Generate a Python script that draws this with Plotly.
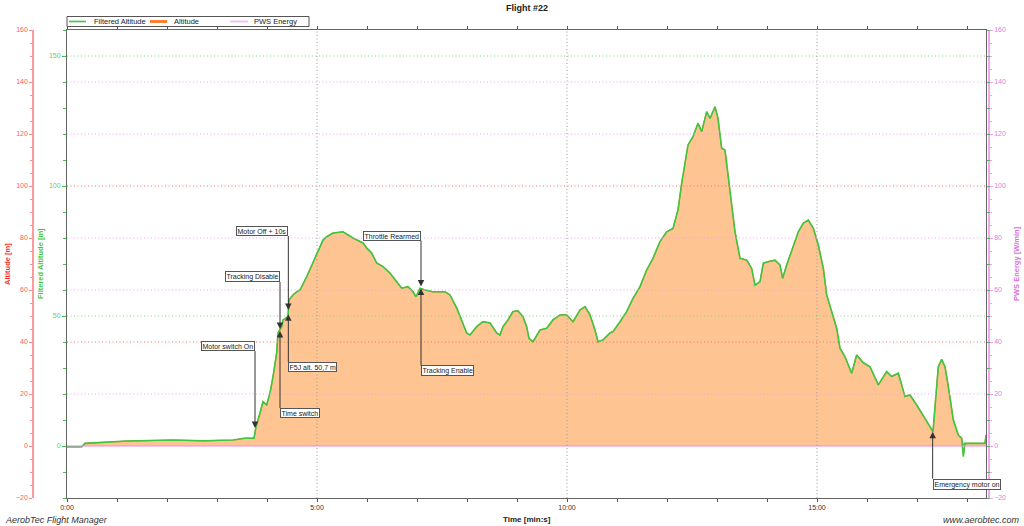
import plotly.graph_objects as go

# ---------------- data ----------------
time_s = [0, 17.6, 21.6, 71.6, 127.2, 163.2, 199.2, 213.6, 224.4, 226.8,
          231.6, 235.2, 239.6, 243.6, 247.2, 251.6, 253.2, 257.6, 259.2, 265.2,
          266.4, 271.2, 275.6, 279.6, 287.6, 295.2, 301.2, 307.2, 311.6, 319.2,
          331.2, 343.2, 355.2, 359.6, 365.6, 371.6, 379.2, 387.6, 395.6, 401.6,
          409.2, 415.2, 418.8, 423.6, 429.6, 439.2, 453.6, 459.6, 467.6, 473.6,
          479.6, 483.6, 491.6, 499.2, 507.6, 515.6, 519.6, 523.2, 529.2, 535.2,
          541.2, 547.2, 551.6, 554.4, 559.2, 567.6, 575.6, 583.2, 591.6, 599.6,
          607.2, 615.6, 621.6, 627.6, 633.6, 637.2, 643.2, 651.6, 655.2, 663.6,
          671.6, 679.2, 687.6, 695.6, 703.2, 711.6, 719.6, 727.2, 733.2, 737.6,
          741.6, 745.2, 751.2, 757.2, 761.6, 767.6, 771.6, 777.6, 781.2, 785.6,
          789.6, 793.2, 797.6, 801.6, 807.6, 815.6, 821.6, 825.6, 831.6, 835.6,
          841.2, 849.6, 855.6, 858.8, 863.6, 869.6, 877.6, 883.6, 889.6, 895.6,
          901.6, 907.6, 911.6, 917.6, 923.6, 927.6, 933.6, 941.6, 947.6, 955.6,
          963.6, 973.6, 983.6, 989.6, 997.6, 1005.6, 1011.6, 1019.6, 1025.6, 1031.6,
          1039.2, 1041.6, 1045.6, 1049.6, 1053.6, 1057.6, 1063.6, 1069.6, 1073.6, 1075.6,
          1077.6, 1101.6, 1102.8]

filtered_altitude = [-0.3, -0.3, 1.0, 1.9, 2.3, 2.0, 2.3, 3.0, 3.0, 7.4,
                     12.7, 17.0, 15.8, 20.4, 26.7, 35.8, 43.5, 45.9, 48.5, 49.7,
                     56.2, 58.1, 59.3, 60.0, 65.1, 70.4, 74.7, 79.2, 80.5, 81.9,
                     82.4, 80.0, 78.1, 76.2, 74.2, 70.4, 69.0, 66.5, 63.2, 60.7,
                     61.3, 59.3, 57.4, 60.7, 60.0, 59.3, 59.3, 58.1, 53.1, 48.5,
                     43.5, 42.7, 45.9, 47.8, 47.3, 43.5, 42.7, 45.9, 48.5, 51.7,
                     52.0, 49.7, 45.9, 41.4, 40.1, 44.6, 45.3, 48.5, 50.4, 50.4,
                     47.8, 52.3, 53.6, 50.4, 44.6, 40.1, 40.8, 43.5, 44.0, 47.8,
                     51.7, 56.8, 61.3, 67.7, 72.2, 78.6, 82.4, 83.7, 90.8, 101.0,
                     109.3, 115.8, 119.0, 124.1, 120.9, 128.6, 126.0, 130.5, 126.0, 114.5,
                     113.8, 104.2, 94.0, 82.4, 72.2, 71.5, 68.3, 61.9, 63.2, 70.3,
                     70.9, 71.5, 69.6, 64.5, 69.6, 75.4, 82.4, 85.7, 86.9, 83.7,
                     77.3, 68.3, 58.1, 51.7, 45.3, 37.6, 34.3, 28.0, 35.0, 32.0,
                     30.5, 23.5, 28.6, 26.7, 28.0, 19.0, 19.6, 15.8, 12.6, 9.3,
                     5.5, 15.1, 30.5, 33.3, 30.5, 22.8, 10.0, 4.2, 3.0, -4.1,
                     1.0, 1.0, 4.2]

altitude = [-0.3, -0.3, 1.0, 1.9, 2.3, 2.0, 2.3, 3.0, 3.0, 7.4,
            12.7, 17.0, 15.8, 20.4, 26.7, 35.8, 43.5, 45.9, 48.5, 49.7,
            56.2, 58.1, 59.3, 60.0, 65.1, 70.4, 74.7, 79.2, 80.5, 81.9,
            82.4, 80.0, 78.1, 76.2, 74.2, 70.4, 69.0, 66.5, 63.2, 60.7,
            61.3, 59.3, 57.4, 60.7, 60.0, 59.3, 59.3, 58.1, 53.1, 48.5,
            43.5, 42.7, 45.9, 47.8, 47.3, 43.5, 42.7, 45.9, 48.5, 51.7,
            52.0, 49.7, 45.9, 41.4, 40.1, 44.6, 45.3, 48.5, 50.4, 50.4,
            47.8, 52.3, 53.6, 50.4, 44.6, 40.1, 40.8, 43.5, 44.0, 47.8,
            51.7, 56.8, 61.3, 67.7, 72.2, 78.6, 82.4, 83.7, 90.8, 101.0,
            109.3, 115.8, 119.0, 124.1, 120.9, 128.6, 126.0, 130.5, 126.0, 114.5,
            113.8, 104.2, 94.0, 82.4, 72.2, 71.5, 68.3, 61.9, 63.2, 70.3,
            70.9, 71.5, 69.6, 64.5, 69.6, 75.4, 82.4, 85.7, 86.9, 83.7,
            77.3, 68.3, 58.1, 51.7, 45.3, 37.6, 34.3, 28.0, 35.0, 32.0,
            30.5, 23.5, 28.6, 26.7, 28.0, 19.0, 19.6, 15.8, 12.6, 9.3,
            5.5, 15.1, 30.5, 33.3, 30.5, 22.8, 10.0, 4.2, 3.0, 0.5,
            1.0, 1.0, 4.2]

pws_time = [0, 1102.8]
pws_energy = [0, 0]

x_tick_vals = [0, 300, 600, 900]
x_tick_text = ["0:00", "5:00", "10:00", "15:00"]

event_labels = ["Motor switch On", "Tracking Disable", "Time switch", "Motor Off + 10s",
                "F5J alt. 50,7 m", "Throttle Rearmed", "Tracking Enable", "Emergency motor on"]
event_time = [225.6, 255.6, 255.6, 265.6, 265.6, 424.8, 424.8, 1038.8]
event_alt = [6.9, 45.0, 44.2, 52.3, 50.7, 61.3, 60.6, 5.5]

# ---------------- layout helpers ----------------
W, H = 1024, 526
def PX(x):
    return x / W
def PY(y):
    return 1 - y / H

PLOT_L, PLOT_R, PLOT_T, PLOT_B = 67, 986, 30, 498
FONT = "Liberation Sans, Arial, sans-serif"

GREEN = "#3fc63f"
ORANGE = "#ff7f33"
FILL = "#fec592"
PINK = "#ee88ee"

fig = go.Figure()

# base subplot (red axis): Altitude area
fig.add_trace(go.Scatter(
    x=time_s, y=altitude, name="Altitude", mode="lines",
    line=dict(color=ORANGE, width=1.2), fill="tozeroy", fillcolor=FILL,
    yaxis="y", showlegend=False))
# green axis overlay: Filtered Altitude
fig.add_trace(go.Scatter(
    x=time_s, y=filtered_altitude, name="Filtered Altitude", mode="lines",
    line=dict(color=GREEN, width=1.6), yaxis="y2", showlegend=False))
# magenta axis overlay: PWS Energy
fig.add_trace(go.Scatter(
    x=pws_time, y=pws_energy, name="PWS Energy", mode="lines",
    line=dict(color=PINK, width=1.2), yaxis="y3", showlegend=False))

ydom = [PY(PLOT_B), PY(PLOT_T)]
yr = [-20, 160]

fig.update_layout(
    width=W, height=H, margin=dict(l=0, r=0, t=0, b=0, autoexpand=False),
    paper_bgcolor="white", plot_bgcolor="white",
    font=dict(family=FONT, size=7, color="#333"),
    showlegend=False,
    xaxis=dict(
        domain=[PX(PLOT_L), PX(PLOT_R)], range=[0, 1102.8], anchor="y2",
        tickmode="array", tickvals=x_tick_vals, ticktext=x_tick_text,
        ticks="outside", ticklen=3, tickcolor="#555", tickfont=dict(size=7, color="#333"),
        minor=dict(tickmode="linear", tick0=0, dtick=60, ticks="outside", ticklen=3,
                   tickcolor="#555", showgrid=False),
        showline=True, linecolor="#666", linewidth=1, mirror="allticks",
        showgrid=False, zeroline=False,
    ),
    yaxis=dict(
        domain=ydom, range=yr, side="left", anchor="free",
        position=PX(33), tickmode="linear", tick0=0, dtick=20,
        ticks="outside", ticklen=3, tickcolor="#ff8a8a",
        tickfont=dict(size=7, color="#ff5c5c"),
        minor=dict(tickmode="linear", tick0=0, dtick=5, ticks="outside", ticklen=2,
                   tickcolor="#ff8a8a", showgrid=False),
        showline=True, linecolor="#ff9a9a", linewidth=1.5,
        showgrid=False, zeroline=False,
    ),
    yaxis2=dict(
        domain=ydom, range=yr, overlaying="y", anchor="x", side="left",
        tickmode="array", tickvals=[0, 50, 100, 150],
        ticks="outside", ticklen=4, tickcolor=GREEN,
        tickfont=dict(size=7, color="#66cc66"),
        minor=dict(tickmode="linear", tick0=0, dtick=10, ticks="outside", ticklen=3,
                   tickcolor=GREEN, showgrid=False),
        showline=True, linecolor="#666", linewidth=1, mirror="allticks",
        showgrid=False, zeroline=False,
    ),
    yaxis3=dict(
        domain=ydom, range=yr, overlaying="y", side="right", anchor="free",
        position=PX(989), tickmode="linear", tick0=0, dtick=20,
        ticks="outside", ticklen=3, tickcolor="#eea0ee",
        tickfont=dict(size=7, color="#dd80dd"),
        minor=dict(tickmode="linear", tick0=0, dtick=5, ticks="outside", ticklen=2,
                   tickcolor="#eea0ee", showgrid=False),
        showline=True, linecolor="#f0a8f0", linewidth=1.5,
        showgrid=False, zeroline=False,
    ),
)

# ---------------- grid lines (drawn above the area fill) ----------------
grid_levels = [(20, "#eea6ee"), (40, "#f07070"), (50, "#7fd87f"), (60, "#eea6ee"),
               (80, "#eea6ee"), (100, "#f07070"), (120, "#eea6ee"), (140, "#eea6ee"),
               (150, "#7fd87f")]
shapes = []
for v, col in grid_levels:
    shapes.append(dict(type="line", xref="paper", yref="y", x0=PX(PLOT_L), x1=PX(PLOT_R),
                       y0=v, y1=v, line=dict(color=col, width=1, dash="1px,2.5px"), layer="above"))
for v in x_tick_vals[1:]:
    shapes.append(dict(type="line", xref="x", yref="paper", x0=v, x1=v,
                       y0=PY(PLOT_B), y1=PY(PLOT_T), line=dict(color="#999", width=1, dash="1px,2.5px"),
                       layer="above"))

# ---------------- custom legend ----------------
shapes.append(dict(type="rect", xref="paper", yref="paper", x0=PX(67), x1=PX(309),
                   y0=PY(26.5), y1=PY(16.5), line=dict(color="#555", width=1), fillcolor="white"))
legend_items = [("Filtered Altitude", GREEN, 1.6, 69, 86, 92),
                ("Altitude", ORANGE, 3, 150, 167, 172),
                ("PWS Energy", "#ecc4ee", 2, 230, 248, 252)]
annotations = []
for name, col, wdt, lx0, lx1, tx in legend_items:
    shapes.append(dict(type="line", xref="paper", yref="paper", x0=PX(lx0), x1=PX(lx1),
                       y0=PY(21.5), y1=PY(21.5), line=dict(color=col, width=wdt)))
    annotations.append(dict(text=name, xref="paper", yref="paper", x=PX(tx), y=PY(21.5),
                            xanchor="left", yanchor="middle", showarrow=False,
                            font=dict(size=7.5, color="#222")))

# ---------------- event callouts ----------------
event_style = [(-77, "right", "bottom"), (-47, "right", "bottom"), (77, "left", "top"),
               (-74, "right", "bottom"), (48, "left", "top"), (-46, "right", "bottom"),
               (77, "left", "top"), (47, "left", "top")]
for lab, t, a, (ay, xa, ya) in zip(event_labels, event_time, event_alt, event_style):
    annotations.append(dict(
        text=lab, x=t, y=a, xref="x", yref="y", ax=0, ay=ay,
        xanchor=xa, yanchor=ya, showarrow=True, arrowhead=2, arrowsize=1.3,
        arrowwidth=1, arrowcolor="#333", standoff=0,
        bgcolor="white", bordercolor="#555", borderwidth=1, borderpad=0.5,
        font=dict(size=7, color="#222")))

# ---------------- titles / texts ----------------
annotations += [
    dict(text="<b>Flight #22</b>", xref="paper", yref="paper", x=PX(527), y=PY(8),
         showarrow=False, font=dict(size=9, color="#222"), xanchor="center", yanchor="middle"),
    dict(text="<b>Time [min:s]</b>", xref="paper", yref="paper", x=PX(527), y=PY(519),
         showarrow=False, font=dict(size=8, color="#222"), xanchor="center", yanchor="middle"),
    dict(text="<i>AerobTec Flight Manager</i>", xref="paper", yref="paper", x=PX(3), y=PY(520),
         showarrow=False, font=dict(size=9, color="#333"), xanchor="left", yanchor="middle"),
    dict(text="<i>www.aerobtec.com</i>", xref="paper", yref="paper", x=PX(1022), y=PY(520),
         showarrow=False, font=dict(size=9, color="#333"), xanchor="right", yanchor="middle"),
    dict(text="<b>Altitude [m]</b>", xref="paper", yref="paper", x=PX(7), y=PY(264),
         textangle=-90, showarrow=False, font=dict(size=7.5, color="#ff2a2a"),
         xanchor="center", yanchor="middle"),
    dict(text="<b>Filtered Altitude [m]</b>", xref="paper", yref="paper", x=PX(40), y=PY(264),
         textangle=-90, showarrow=False, font=dict(size=7.5, color="#3cc43c"),
         xanchor="center", yanchor="middle"),
    dict(text="<b>PWS Energy [W/min]</b>", xref="paper", yref="paper", x=PX(1016), y=PY(264),
         textangle=-90, showarrow=False, font=dict(size=7.5, color="#d96ed9"),
         xanchor="center", yanchor="middle"),
]

fig.update_layout(shapes=shapes, annotations=annotations)
fig.write_html("out.html", config={"displayModeBar": False},
               post_script="document.body.style.margin='0px';")
